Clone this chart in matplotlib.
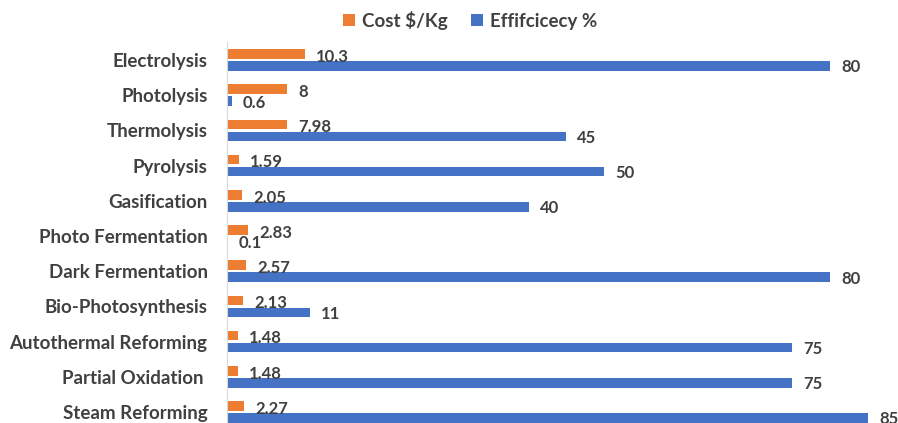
import matplotlib
matplotlib.use("Agg")
import matplotlib.pyplot as plt
import numpy as np

categories = ["Electrolysis", "Photolysis", "Thermolysis", "Pyrolysis", "Gasification",
              "Photo Fermentation", "Dark Fermentation", "Bio-Photosynthesis",
              "Autothermal Reforming", "Partial Oxidation ", "Steam Reforming"]
cost = [10.3, 8, 7.98, 1.59, 2.05, 2.83, 2.57, 2.13, 1.48, 1.48, 2.27]
efficiency = [80, 0.6, 45, 50, 40, 0.1, 80, 11, 75, 75, 85]

plt.rcParams['font.family'] = ['Lato', 'DejaVu Sans']
TXT = '#404040'
ORANGE = '#ED7D31'
BLUE = '#4472C4'

fig = plt.figure(figsize=(8.98, 4.23), dpi=100)
ax = fig.add_axes([227/898, (423-429.6)/423, (890.5-227)/898, (429.6-42.4)/423])

y = np.arange(len(categories))
off = 0.17
h = 0.27
ax.barh(y - off, cost, height=h, color=ORANGE, label='Cost $/Kg')
ax.barh(y + off, efficiency, height=h, color=BLUE, label='Effifcicecy %')

for yi, v in zip(y, cost):
    ax.annotate(f"{v:g}", (v, yi - off), xytext=(8, -2), textcoords='offset points',
                va='center', ha='left', fontsize=12, fontweight='bold', color=TXT)
for yi, v in zip(y, efficiency):
    ax.annotate(f"{v:g}", (v, yi + off), xytext=(8, -1), textcoords='offset points',
                va='center', ha='left', fontsize=12, fontweight='bold', color=TXT)

ax.set_xlim(0, 88)
ax.set_ylim(10.5, -0.5)
ax.set_yticks(y)
ax.set_yticklabels(categories, fontsize=13.5, fontweight='bold', color=TXT)
ax.tick_params(axis='y', length=0, pad=14)
ax.set_xticks([])
for s in ['top', 'right', 'bottom']:
    ax.spines[s].set_visible(False)
ax.spines['left'].set_color('#d9d9d9')

leg = fig.legend(loc='center', bbox_to_anchor=(470/898, 1 - 20/423), ncol=2, frameon=False,
                 prop={'size': 13.5, 'weight': 'bold'}, handlelength=0.65, handleheight=0.65,
                 handletextpad=0.37, columnspacing=1.2)
for t in leg.get_texts():
    t.set_color(TXT)

fig.savefig("out.png", dpi=100)
